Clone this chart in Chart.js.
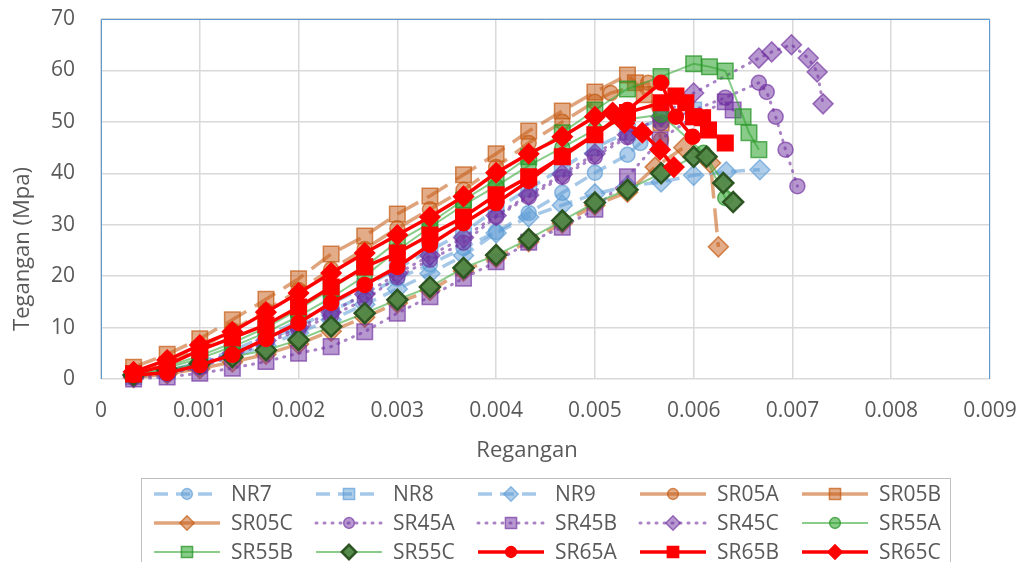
<!DOCTYPE html>
<html>
<head>
<meta charset="utf-8">
<script src="https://cdn.jsdelivr.net/npm/chart.js@4.4.1/dist/chart.umd.min.js"></script>
<style>
  html, body { margin: 0; padding: 0; background: #fff; }
  #wrap { width: 1022px; height: 562px; }
</style>
</head>
<body>
<div id="wrap"><canvas id="grafik" width="1022" height="562"></canvas></div>
<script>
// strain grid shared by the specimens (regangan)
const strainBase = [0.00033, 0.00067, 0.00100, 0.00133, 0.00167, 0.00200, 0.00233, 0.00267, 0.00300, 0.00333,
                    0.00367, 0.00400, 0.00433, 0.00467, 0.00500, 0.00533, 0.00567, 0.00600, 0.00633, 0.00667];

// stress (MPa) on strainBase, then the extra points past the peak [strain, stress]
const nr7Stress   = [0.5, 1.5, 3, 5, 7.5, 10.3, 13.2, 16.3, 19.5, 22.3, 25.5, 28.6, 32.3, 36.2, 40.1, 43.6];
const nr7Tail     = [[0.00546, 45.9]];
const nr8Stress   = [0.5, 1.6, 3.2, 5.5, 8.3, 11.3, 14.6, 18, 21.5, 25, 28.5, 33, 37, 41, 45, 48, 50.5];
const nr8Tail     = [[0.006, 52.3]];
const nr9Stress   = [0.3, 1.2, 2.5, 4.3, 6.5, 9, 11.5, 14.5, 17.5, 20.5, 24, 28.4, 31.5, 33.8, 36, 37.5, 38.3, 39.6, 40.3, 40.7];
const nr9Tail     = [];
const sr05aStress = [1, 3.3, 6, 9.5, 13.3, 17.3, 21.3, 25.3, 29.3, 33, 36.8, 41.2, 45.9, 50, 53.9];
const sr05aTail   = [[0.00516, 55.6], [0.00554, 57.6], [0.00567, 46.5]];
const sr05bStress = [2.3, 4.8, 7.8, 11.5, 15.5, 19.5, 24.3, 27.8, 32.1, 35.6, 39.7, 43.8, 48.2, 52.1, 55.8, 59.1];
const sr05bTail   = [[0.00541, 57.6], [0.0055, 55.3], [0.00567, 49.8]];
const sr05cStress = [0.3, 1, 2, 3.3, 4.8, 6.8, 9.3, 12, 14.8, 17.2, 21, 23.6, 26.7, 30.3, 33.8, 36.3];
const sr05cTail   = [[0.00561, 41.2], [0.0059, 45], [0.00617, 42], [0.00625, 25.7]];
const sr45aStress = [0.3, 1, 2.3, 4.5, 7, 9.5, 12.3, 15.4, 19.8, 23.2, 26.5, 31.5, 35.4, 39.3, 43.2, 47, 49.8];
const sr45aTail   = [[0.00632, 54.7], [0.00666, 57.6], [0.00674, 55.8], [0.00683, 51], [0.00693, 44.6], [0.00705, 37.5]];
const sr45bStress = [0, 0.4, 1.1, 2.1, 3.4, 5, 6.3, 9.2, 12.8, 16, 19.6, 22.8, 26.6, 29.5, 33, 39.3];
const sr45bTail   = [[0.00566, 46.5], [0.006, 51], [0.00632, 53.9], [0.0064, 52.3]];
const sr45cStress = [0.5, 1.5, 3, 5, 7.5, 10, 13, 16.5, 20.5, 24, 27.5, 31.8, 35.8, 39.8, 43.8, 47.5, 51, 55.6];
const sr45cTail   = [[0.00666, 62.4], [0.00679, 63.6], [0.00699, 65], [0.00716, 62.4], [0.00725, 59.7], [0.00731, 53.5]];
const sr55aStress = [0.8, 2.2, 4, 6.3, 9, 12.2, 15.8, 20, 25, 29.5, 33.8, 37.5, 41.5, 45, 48.5, 50.5, 51.4];
const sr55aTail   = [[0.0061, 44], [0.00632, 35.2]];
const sr55bStress = [1, 2.5, 4.5, 7, 10, 13.5, 17.5, 21.8, 26.7, 30.3, 34.8, 38.7, 43.2, 47.9, 52.3, 56.4, 58.8, 61.3];
const sr55bTail   = [[0.00616, 60.7], [0.00632, 59.9], [0.0065, 51], [0.00656, 47.9], [0.00666, 44.6]];
const sr55cStress = [0.8, 1.8, 3, 4.3, 5.6, 7.6, 10.2, 12.8, 15.4, 17.9, 21.6, 24.1, 27.2, 30.8, 34.3, 36.8, 40, 43.2];
const sr55cTail   = [[0.00613, 43.2], [0.0063, 38.1], [0.0064, 34.4]];
const sr65aStress = [0.8, 1.2, 2.7, 4.7, 7.8, 10.9, 14.8, 18.3, 21.8, 26.1, 30.3, 34.2, 38.5, 43.5, 47.5, 52.3, 57.6];
const sr65aTail   = [[0.00582, 51], [0.00599, 47.1]];
const sr65bStress = [1, 2.7, 5.6, 8, 10.5, 14, 17.9, 21.8, 24.5, 28, 31.5, 35.8, 39.3, 43.2, 47.5, 51.8, 53.7];
const sr65bTail   = [[0.00582, 55], [0.00592, 53.7], [0.006, 51], [0.00609, 50.8], [0.00615, 48.4], [0.00632, 45.9]];
const sr65cStress = [1.4, 3.7, 6.6, 9.2, 13, 16.7, 20.6, 24.5, 28, 31.5, 35.5, 40.1, 43.8, 47.1, 51];
const sr65cTail   = [[0.00518, 51.8], [0.0053, 49.8], [0.00548, 47.9], [0.00566, 44.6], [0.0058, 41.2]];

const seriesNames = ['NR7', 'NR8', 'NR9', 'SR05A', 'SR05B', 'SR05C', 'SR45A', 'SR45B', 'SR45C',
                     'SR55A', 'SR55B', 'SR55C', 'SR65A', 'SR65B', 'SR65C'];
const yTickLabels = ['0', '10', '20', '30', '40', '50', '60', '70'];
const xTickLabels = ['0', '0.001', '0.002', '0.003', '0.004', '0.005', '0.006', '0.007', '0.008', '0.009'];

const allStress = [nr7Stress, nr8Stress, nr9Stress, sr05aStress, sr05bStress, sr05cStress, sr45aStress, sr45bStress,
                   sr45cStress, sr55aStress, sr55bStress, sr55cStress, sr65aStress, sr65bStress, sr65cStress];
const allTail = [nr7Tail, nr8Tail, nr9Tail, sr05aTail, sr05bTail, sr05cTail, sr45aTail, sr45bTail,
                 sr45cTail, sr55aTail, sr55bTail, sr55cTail, sr65aTail, sr65bTail, sr65cTail];

const FONT = '"Open Sans", "DejaVu Sans", sans-serif';
const TEXT = '#595959';

// line styles per group
const blue   = { line: 'rgba(91,155,213,0.55)', fill: 'rgba(91,155,213,0.5)', edge: 'rgba(91,155,213,0.65)', w: 3.5, dash: [14, 8] };
const orange = { line: 'rgba(197,90,17,0.55)', fill: 'rgba(197,90,17,0.5)', edge: 'rgba(197,90,17,0.7)', w: 3.5, dash: [24, 10], legendDash: [] };
const purple = { line: 'rgba(112,48,160,0.6)', fill: 'rgba(112,48,160,0.5)', edge: 'rgba(112,48,160,0.65)', w: 3, dash: [1, 7], cap: 'round' };
const green  = { line: 'rgba(60,170,60,0.6)', fill: 'rgba(40,160,40,0.55)', edge: 'rgba(40,150,40,0.75)', w: 2, dash: [] };
const dgreen = { line: 'rgba(60,170,60,0.6)', fill: 'rgba(80,135,70,0.95)', edge: '#2d5522', w: 2, dash: [], pw: 2.5 };
const red    = { line: '#ff0000', fill: '#ff0000', edge: '#ff0000', w: 3.5, dash: [] };

const groupOf  = [blue, blue, blue, orange, orange, orange, purple, purple, purple, green, green, dgreen, red, red, red];
const markerOf = ['circle', 'rect', 'rectRot'];
const radiusOf = { circle: 7.5, rect: 11, rectRot: 10 };

const datasets = seriesNames.map((name, i) => {
  const g = groupOf[i];
  const shape = markerOf[i % 3];
  const pts = allStress[i].map((y, k) => ({ x: strainBase[k], y }))
    .concat(allTail[i].map(([x, y]) => ({ x, y })));
  return {
    label: name,
    data: pts,
    showLine: true,
    tension: 0,
    borderColor: g.line,
    borderWidth: g.w,
    borderDash: g.dash,
    borderCapStyle: g.cap || 'butt',
    legendDash: g.legendDash,
    pointStyle: shape,
    pointRadius: radiusOf[shape],
    pointHoverRadius: radiusOf[shape],
    pointBackgroundColor: g.fill,
    pointBorderColor: g.edge,
    pointBorderWidth: g.pw || 1.5,
    clip: false,
    order: seriesNames.length - i
  };
});

// frame of the plot area
const frame = {
  id: 'frame',
  beforeDatasetsDraw(chart) {
    const { ctx, chartArea: a } = chart;
    ctx.save();
    ctx.lineWidth = 1;
    ctx.strokeStyle = '#5b9bd5';
    ctx.beginPath();
    ctx.moveTo(a.left + 0.5, a.bottom);
    ctx.lineTo(a.left + 0.5, a.top + 0.5);
    ctx.lineTo(a.right - 0.5, a.top + 0.5);
    ctx.lineTo(a.right - 0.5, a.bottom);
    ctx.stroke();
    ctx.restore();
  }
};

// axis titles placed like the original
const titles = {
  id: 'titles',
  afterDraw(chart) {
    const ctx = chart.ctx;
    ctx.save();
    ctx.fillStyle = TEXT;
    ctx.font = '22px ' + FONT;
    ctx.textAlign = 'center';
    ctx.textBaseline = 'middle';
    ctx.fillText('Regangan', 527, 451);
    ctx.translate(23, 249);
    ctx.rotate(-Math.PI / 2);
    ctx.fillText('Tegangan (Mpa)', 0, 0);
    ctx.restore();
  }
};

// boxed legend, 5 columns x 3 rows
const boxLegend = {
  id: 'boxLegend',
  afterDraw(chart) {
    const ctx = chart.ctx;
    ctx.save();
    ctx.strokeStyle = '#bfbfbf';
    ctx.lineWidth = 1;
    ctx.strokeRect(141.5, 478.5, 809, 120);
    chart.data.datasets.forEach((ds, i) => {
      const col = i % 5, row = Math.floor(i / 5);
      const x0 = 154 + col * 162, y = 494 + row * 29;
      ctx.setLineDash(ds.legendDash || ds.borderDash || []);
      ctx.lineCap = ds.borderCapStyle;
      ctx.lineWidth = ds.borderWidth;
      ctx.strokeStyle = ds.borderColor;
      ctx.beginPath();
      ctx.moveTo(x0, y);
      ctx.lineTo(x0 + 66, y);
      ctx.stroke();
      ctx.setLineDash([]);
      ctx.fillStyle = ds.pointBackgroundColor;
      ctx.strokeStyle = ds.pointBorderColor;
      ctx.lineWidth = ds.pointBorderWidth;
      Chart.helpers.drawPoint(ctx, {
        pointStyle: ds.pointStyle, radius: ds.pointRadius * 0.72, rotation: 0, borderWidth: ds.pointBorderWidth
      }, x0 + 33, y);
      ctx.fillStyle = TEXT;
      ctx.font = '21px ' + FONT;
      ctx.textAlign = 'left';
      ctx.textBaseline = 'middle';
      ctx.fillText(ds.label, x0 + 77, y + 1);
    });
    ctx.restore();
  }
};

new Chart(document.getElementById('grafik'), {
  type: 'scatter',
  data: { datasets },
  plugins: [frame, titles, boxLegend],
  options: {
    responsive: false,
    animation: false,
    devicePixelRatio: 1,
    layout: { padding: { top: 19, right: 32, left: 0, bottom: 0 } },
    scales: {
      x: {
        type: 'linear', min: 0, max: 0.009,
        afterFit: s => { s.height = 183; s.paddingLeft = 0; s.paddingRight = 0; },
        border: { display: false },
        grid: { color: '#d9d9d9', lineWidth: 1.5, drawTicks: false },
        ticks: {
          stepSize: 0.001, padding: 19, color: TEXT, font: { family: FONT, size: 21 },
          callback: (v, i) => xTickLabels[i]
        }
      },
      y: {
        min: 0, max: 70,
        afterFit: s => { s.width = 101; s.paddingTop = 0; s.paddingBottom = 0; },
        border: { display: false },
        grid: { color: '#d9d9d9', lineWidth: 1.5, drawTicks: false },
        ticks: {
          stepSize: 10, padding: 26, color: TEXT, font: { family: FONT, size: 21 },
          callback: (v, i) => yTickLabels[i]
        }
      }
    },
    plugins: { legend: { display: false }, tooltip: { enabled: false } }
  }
});
</script>
</body>
</html>
